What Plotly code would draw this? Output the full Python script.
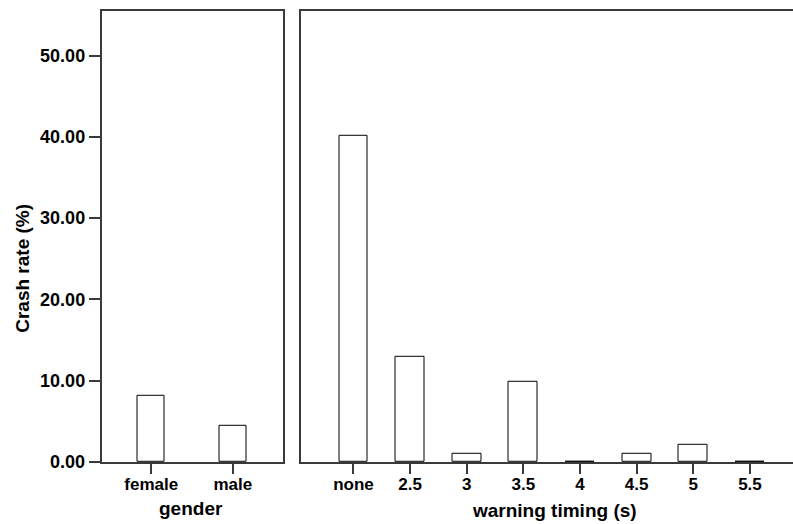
import plotly.graph_objects as go
from plotly.subplots import make_subplots

gender_cats = ["female", "male"]
gender_rates = [8.2, 4.5]

timing_cats = ["none", "2.5", "3", "3.5", "4", "4.5", "5", "5.5"]
timing_rates = [40.1, 13.0, 1.0, 9.9, 0.0, 1.0, 2.1, 0.0]

y_ticks = [0, 10, 20, 30, 40, 50]
y_tick_text = ["0.00", "10.00", "20.00", "30.00", "40.00", "50.00"]

W, H = 793, 524
FONT = "Liberation Sans, Arial, sans-serif"
LINE = "#3a3a3a"

fig = make_subplots(rows=1, cols=2, shared_yaxes=False)

fig.add_trace(go.Bar(x=list(range(len(gender_cats))), y=gender_rates, width=0.33,
                     marker=dict(color="white", line=dict(color="black", width=1)),
                     showlegend=False), row=1, col=1)
fig.add_trace(go.Bar(x=list(range(len(timing_cats))), y=timing_rates, width=0.51,
                     marker=dict(color="white", line=dict(color="black", width=1)),
                     showlegend=False), row=1, col=2)

ydom = [(H - 471) / H, (H - 11) / H]
yrange = [0, 55.5]

fig.update_layout(
    width=W, height=H,
    margin=dict(l=0, r=0, t=0, b=0),
    paper_bgcolor="white", plot_bgcolor="white",
    font=dict(family=FONT, color="black"),
    bargap=0,
    xaxis=dict(domain=[101.5 / W, 282.5 / W], range=[-0.61, 1.61],
               tickvals=list(range(len(gender_cats))), ticktext=gender_cats,
               showline=True, linecolor=LINE, linewidth=1.5, mirror=True,
               ticks="outside", ticklen=10, tickcolor=LINE, tickwidth=1.5,
               ticklabelstandoff=-4,
               showgrid=False, zeroline=False,
               tickfont=dict(size=17, weight="bold", family=FONT)),
    yaxis=dict(domain=ydom, range=yrange, tickvals=y_ticks, ticktext=y_tick_text,
               showline=True, linecolor=LINE, linewidth=1.5, mirror=True,
               ticks="outside", ticklen=11, tickcolor=LINE, tickwidth=1.5,
               showgrid=False, zeroline=False,
               tickfont=dict(size=18, weight="bold", family=FONT)),
    xaxis2=dict(domain=[300.5 / W, 1.0], range=[-0.935, 7.76],
                tickvals=list(range(len(timing_cats))), ticktext=timing_cats,
                showline=True, linecolor=LINE, linewidth=1.5, mirror=True,
                ticks="outside", ticklen=10, tickcolor=LINE, tickwidth=1.5,
                ticklabelstandoff=-4,
                showgrid=False, zeroline=False,
                tickfont=dict(size=17, weight="bold", family=FONT)),
    yaxis2=dict(domain=ydom, range=yrange, showticklabels=False, ticks="",
                showline=True, linecolor=LINE, linewidth=1.5, mirror=False,
                showgrid=False, zeroline=False),
    annotations=[
        dict(text="<b>Crash rate (%)</b>", x=23 / W, y=(H - 274) / H, xref="paper", yref="paper",
             textangle=-90, showarrow=False, font=dict(size=19, family=FONT),
             xanchor="center", yanchor="middle"),
        dict(text="<b>gender</b>", x=191 / W, y=(H - 518) / H, xref="paper", yref="paper",
             showarrow=False, font=dict(size=19, family=FONT), xanchor="center", yanchor="middle"),
        dict(text="<b>warning timing (s)</b>", x=554 / W, y=(H - 520) / H, xref="paper", yref="paper",
             showarrow=False, font=dict(size=19, family=FONT), xanchor="center", yanchor="middle"),
    ],
)

fig.write_html("out.html", config={"displayModeBar": False},
               post_script="document.body.style.margin='0px';document.body.style.overflow='hidden';")
